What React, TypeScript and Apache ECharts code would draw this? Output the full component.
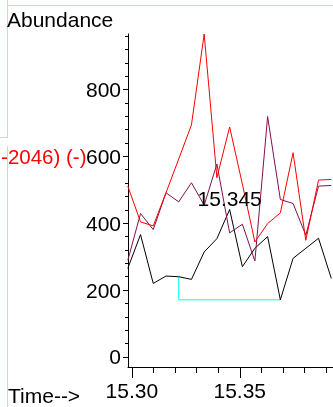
import React, { useEffect, useRef } from "react";
import * as echarts from "echarts";

const times = [15.2981, 15.304, 15.3099, 15.3158, 15.3217, 15.3276, 15.3335, 15.3394, 15.3453, 15.3512, 15.357, 15.3629, 15.3688, 15.3747, 15.3806, 15.3865, 15.3924];
const redValues = [511, 404, 392, 491, 592, 694, 966, 536, 688, 517, 344, 399, 431, 611, 349, 529, 531];
const purpleValues = [289, 429, 381, 491, 464, 521, 454, 577, 371, 397, 287, 719, 471, 459, 364, 511, 513];
const blackValues = [265, 366, 220, 242, 240, 232, 314, 354, 441, 270, 325, 360, 171, 295, 325, 355, 235];
const baselineTimes = [15.3217, 15.3217, 15.3688];
const baselineValues = [240, 171, 171];
const xMajorTicks = [15.3, 15.35];
const xMinorTicks = [15.31, 15.32, 15.33, 15.34, 15.36, 15.37, 15.38, 15.39];
const yMajorTicks = [0, 200, 400, 600, 800];
const yMinorTicks = [40, 80, 120, 160, 240, 280, 320, 360, 440, 480, 520, 560, 640, 680, 720, 760, 840, 880, 920, 960];
const peakIndex = 8;
const peakLabel = "15.345";
const yTitle = "Abundance";
const xTitle = "Time-->";
const legendText = "-2046) (-)";

const FONT = '"Liberation Sans", Arial, sans-serif';
const FS = 21;

export default function App() {
  const ref = useRef<HTMLDivElement>(null);
  useEffect(() => {
    const chart = echarts.init(ref.current!, null, { renderer: "svg" });
    const pairs = (vals: number[]) => vals.map((v, i) => [times[i], v]);
    const xMin = 15.2982, xMax = 15.3932, yMin = -30, yMax = 966;
    const green = "#99ff99";
    const gridRect = { left: 128, top: 34, width: 205, height: 333, containLabel: false };
    const bar = (x: number, y: number, w: number, h: number) => ({
      type: "rect", shape: { x, y, width: w, height: h }, style: { fill: green }, z: 0,
    });
    chart.setOption({
      animation: false,
      grid: [gridRect, { ...gridRect }],
      xAxis: [
        {
          type: "value", gridIndex: 0, min: xMin, max: xMax, position: "bottom",
          axisLine: { show: true, onZero: false, lineStyle: { color: "#000", width: 1 } },
          axisTick: { show: true, length: 11, customValues: xMajorTicks, lineStyle: { color: "#000" } },
          axisLabel: { show: true, customValues: xMajorTicks, margin: 13, fontSize: FS, fontFamily: FONT, color: "#000", formatter: (v: number) => v.toFixed(2) },
          splitLine: { show: false },
        },
        {
          type: "value", gridIndex: 1, min: xMin, max: xMax, position: "bottom",
          axisLine: { show: false, onZero: false },
          axisTick: { show: true, length: 6, customValues: xMinorTicks, lineStyle: { color: "#000" } },
          axisLabel: { show: false },
          splitLine: { show: false },
        },
      ],
      yAxis: [
        {
          type: "value", gridIndex: 0, min: yMin, max: yMax, position: "left",
          axisLine: { show: true, onZero: false, lineStyle: { color: "#000", width: 1 } },
          axisTick: { show: true, length: 5, customValues: yMajorTicks, lineStyle: { color: "#000" } },
          axisLabel: { show: true, customValues: yMajorTicks, margin: 7, fontSize: FS, fontFamily: FONT, color: "#000" },
          splitLine: { show: false },
        },
        {
          type: "value", gridIndex: 1, min: yMin, max: yMax, position: "left",
          axisLine: { show: false, onZero: false },
          axisTick: { show: true, length: 3, customValues: yMinorTicks, lineStyle: { color: "#000" } },
          axisLabel: { show: false },
          splitLine: { show: false },
        },
      ],
      series: [
        {
          type: "line", xAxisIndex: 0, yAxisIndex: 0,
          data: baselineTimes.map((t, i) => [t, baselineValues[i]]),
          symbol: "none", lineStyle: { color: "#00ffff", width: 1 }, z: 1,
        },
        {
          type: "line", xAxisIndex: 0, yAxisIndex: 0, data: pairs(blackValues), symbol: "none",
          lineStyle: { color: "#000000", width: 1 }, z: 2,
          markPoint: {
            symbol: "circle", symbolSize: 0, silent: true,
            label: { show: true, position: "top", distance: 1, fontSize: FS, fontFamily: FONT, color: "#000" },
            data: [{ coord: [times[peakIndex], blackValues[peakIndex]], label: { formatter: peakLabel } }],
          },
        },
        {
          type: "line", xAxisIndex: 0, yAxisIndex: 0, data: pairs(purpleValues), symbol: "none",
          lineStyle: { color: "#80104f", width: 1 }, z: 3,
        },
        {
          type: "line", xAxisIndex: 0, yAxisIndex: 0, data: pairs(redValues), symbol: "none",
          lineStyle: { color: "#ff0000", width: 1 }, z: 4,
        },
      ],
      graphic: [
        bar(7, 0, 1, 138),
        bar(0, 137, 8, 1),
        bar(7, 5, 326, 1),
        bar(7, 146, 1, 261),
        { type: "text", x: 7, y: 19, style: { text: yTitle, font: `${FS}px ${FONT}`, fill: "#000", align: "left", verticalAlign: "middle" } },
        { type: "text", x: 8, y: 395, style: { text: xTitle, font: `${FS}px ${FONT}`, fill: "#000", align: "left", verticalAlign: "middle" } },
        { type: "text", x: 86.5, y: 156, style: { text: legendText, font: `20.5px ${FONT}`, fill: "#ff0000", align: "right", verticalAlign: "middle" } },
      ],
    });
    return () => chart.dispose();
  }, []);
  return <div ref={ref} style={{ position: "fixed", left: 0, top: 0, width: 333, height: 407 }} />;
}
